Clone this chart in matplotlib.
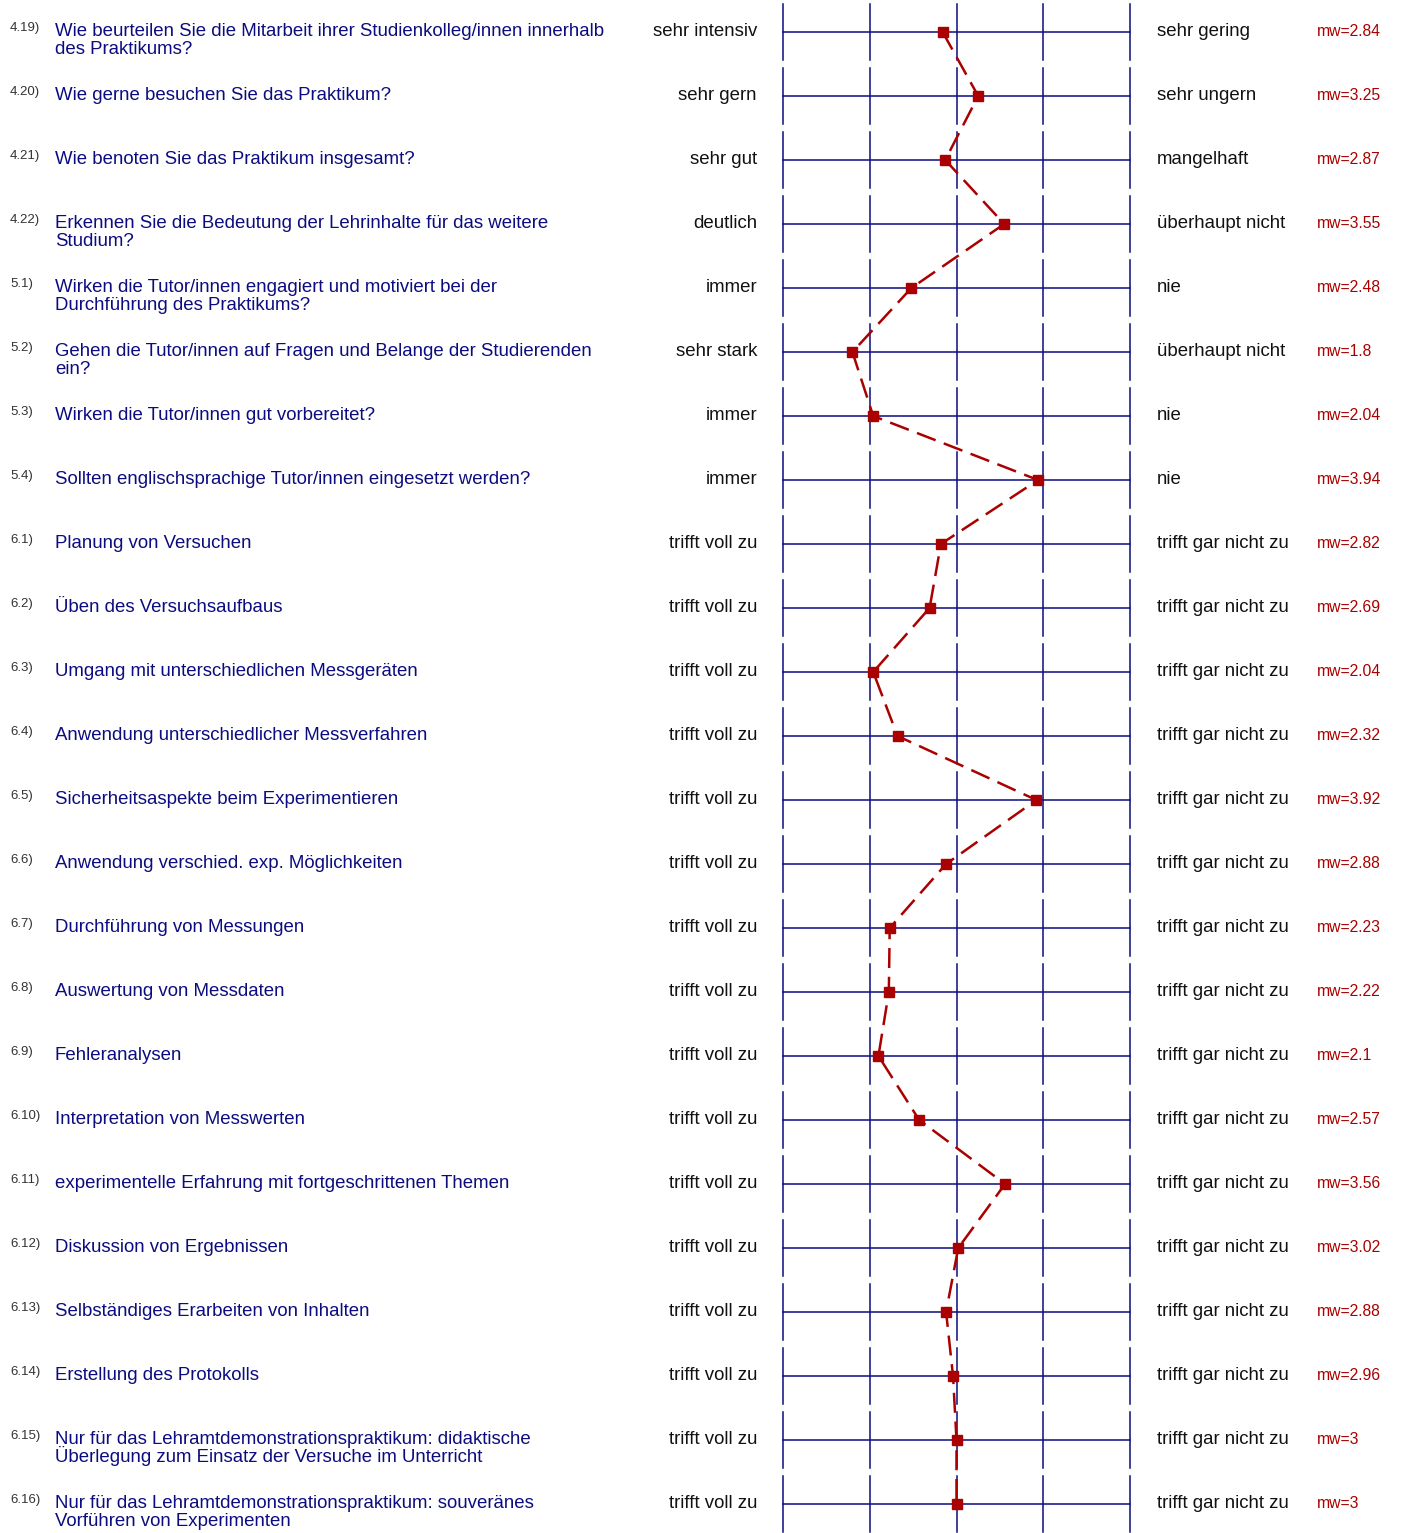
import matplotlib
matplotlib.use("Agg")
import matplotlib.pyplot as plt

plt.rcParams['font.family'] = ['Liberation Sans', 'DejaVu Sans']

numbers = ['4.19)', '4.20)', '4.21)', '4.22)', '5.1)', '5.2)', '5.3)', '5.4)',
           '6.1)', '6.2)', '6.3)', '6.4)', '6.5)', '6.6)', '6.7)', '6.8)',
           '6.9)', '6.10)', '6.11)', '6.12)', '6.13)', '6.14)', '6.15)', '6.16)']

questions = [
    'Wie beurteilen Sie die Mitarbeit ihrer Studienkolleg/innen innerhalb\ndes Praktikums?',
    'Wie gerne besuchen Sie das Praktikum?',
    'Wie benoten Sie das Praktikum insgesamt?',
    'Erkennen Sie die Bedeutung der Lehrinhalte für das weitere\nStudium?',
    'Wirken die Tutor/innen engagiert und motiviert bei der\nDurchführung des Praktikums?',
    'Gehen die Tutor/innen auf Fragen und Belange der Studierenden\nein?',
    'Wirken die Tutor/innen gut vorbereitet?',
    'Sollten englischsprachige Tutor/innen eingesetzt werden?',
    'Planung von Versuchen',
    'Üben des Versuchsaufbaus',
    'Umgang mit unterschiedlichen Messgeräten',
    'Anwendung unterschiedlicher Messverfahren',
    'Sicherheitsaspekte beim Experimentieren',
    'Anwendung verschied. exp. Möglichkeiten',
    'Durchführung von Messungen',
    'Auswertung von Messdaten',
    'Fehleranalysen',
    'Interpretation von Messwerten',
    'experimentelle Erfahrung mit fortgeschrittenen Themen',
    'Diskussion von Ergebnissen',
    'Selbständiges Erarbeiten von Inhalten',
    'Erstellung des Protokolls',
    'Nur für das Lehramtdemonstrationspraktikum: didaktische\nÜberlegung zum Einsatz der Versuche im Unterricht',
    'Nur für das Lehramtdemonstrationspraktikum: souveränes\nVorführen von Experimenten',
]

left_labels = ['sehr intensiv', 'sehr gern', 'sehr gut', 'deutlich', 'immer',
               'sehr stark', 'immer', 'immer'] + ['trifft voll zu'] * 16
right_labels = ['sehr gering', 'sehr ungern', 'mangelhaft', 'überhaupt nicht',
                'nie', 'überhaupt nicht', 'nie', 'nie'] + ['trifft gar nicht zu'] * 16

means = [2.84, 3.25, 2.87, 3.55, 2.48, 1.8, 2.04, 3.94,
         2.82, 2.69, 2.04, 2.32, 3.92, 2.88, 2.23, 2.22,
         2.1, 2.57, 3.56, 3.02, 2.88, 2.96, 3, 3]
mw_labels = ['mw=2.84', 'mw=3.25', 'mw=2.87', 'mw=3.55', 'mw=2.48', 'mw=1.8',
             'mw=2.04', 'mw=3.94', 'mw=2.82', 'mw=2.69', 'mw=2.04', 'mw=2.32',
             'mw=3.92', 'mw=2.88', 'mw=2.23', 'mw=2.22', 'mw=2.1', 'mw=2.57',
             'mw=3.56', 'mw=3.02', 'mw=2.88', 'mw=2.96', 'mw=3', 'mw=3']

W, H = 1401, 1533
navy = '#0c0c80'
red = '#aa0000'

fig = plt.figure(figsize=(W / 100, H / 100), dpi=100)

# scale axes: 1..5 spans pixel columns 783..1130, rows are 64px apart from y=32
x0, x1 = 783, 1130
ax = fig.add_axes([x0 / W, 0, (x1 - x0) / W, 1])
ax.set_xlim(1, 5)
ax.set_ylim((H - 32) / 64, -0.5)
ax.axis('off')

n = len(means)
rows = list(range(n))
for i in rows:
    ax.plot([1, 5], [i, i], color=navy, lw=1.1, clip_on=False, zorder=1)
    for s in range(1, 6):
        ax.plot([s, s], [i - 0.44, i + 0.44], color=navy, lw=1.1,
                clip_on=False, zorder=1)

ax.plot(means, rows, color=red, lw=1.8, dashes=(8, 3.5), marker='s',
        markersize=6.5, clip_on=False, zorder=3)

# text columns, in pixel coordinates
tax = fig.add_axes([0, 0, 1, 1])
tax.set_xlim(0, W)
tax.set_ylim(H, 0)
tax.axis('off')
for i in rows:
    yc = 32 + 64 * i
    tax.text(10, yc - 0.5, numbers[i], fontsize=9.5, color='#333333',
             va='baseline', ha='left')
    # wrapped questions: one text per line so spacing stays even
    for k, line in enumerate(questions[i].split('\n')):
        tax.text(55, yc + 3.5 + 18 * k, line, fontsize=13.4, color=navy,
                 va='baseline', ha='left')
    tax.text(757, yc + 4.5, left_labels[i], fontsize=13.4, color='#111111',
             va='baseline', ha='right')
    tax.text(1157, yc + 4.5, right_labels[i], fontsize=13.4, color='#111111',
             va='baseline', ha='left')
    tax.text(1317, yc + 4, mw_labels[i], fontsize=11.3, color=red,
             va='baseline', ha='left')

fig.savefig('out.png', dpi=100)
